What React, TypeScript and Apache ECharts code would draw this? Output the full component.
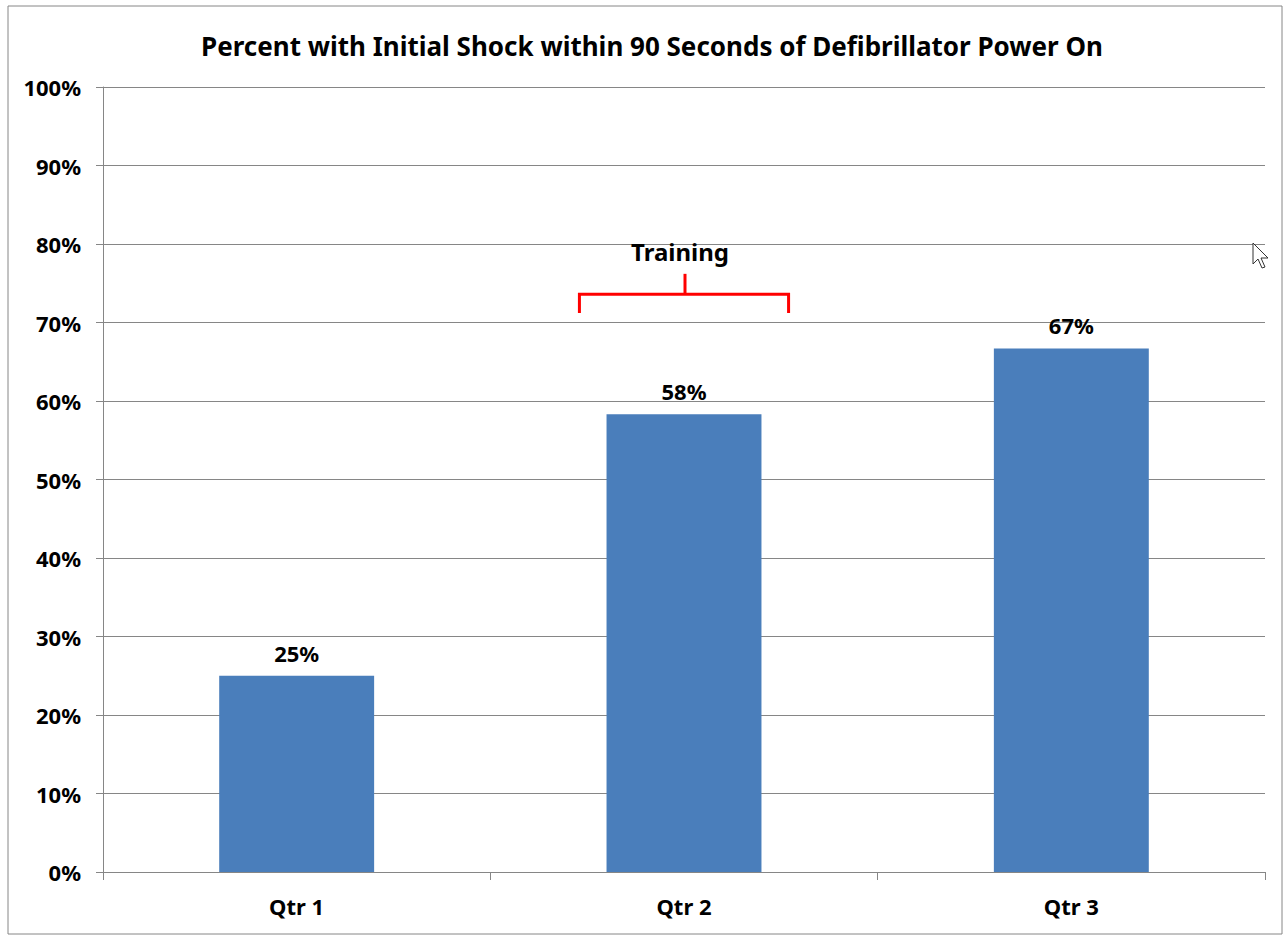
import React, { useEffect, useRef } from "react";
import * as echarts from "echarts";

const categories = ["Qtr 1", "Qtr 2", "Qtr 3"];
const values = [0.25, 0.583, 0.667];
const yTicks = [0, 0.1, 0.2, 0.3, 0.4, 0.5, 0.6, 0.7, 0.8, 0.9, 1.0];
const titleText = "Percent with Initial Shock within 90 Seconds of Defibrillator Power On";
const annotationText = "Training";
const annotationCategory = "Qtr 2";
const bracketLevels = { bottom: 0.712, bar: 0.736, stem: 0.762, text: 0.79 };

const FONT = "'Noto Sans', 'DejaVu Sans', sans-serif";

export default function App() {
  const ref = useRef<HTMLDivElement>(null);
  useEffect(() => {
    document.body.style.margin = "0";
    const chart = echarts.init(ref.current!, null, { renderer: "svg" });
    const option: any = {
      animation: false,
      backgroundColor: "#ffffff",
      title: {
        text: titleText,
        left: 647,
        textAlign: "center",
        top: 28,
        textStyle: { fontFamily: FONT, fontWeight: "bold", fontSize: 26, color: "#000" },
      },
      grid: { left: 103, right: 22, top: 87, bottom: 65 },
      xAxis: {
        type: "category",
        data: categories,
        axisLine: { lineStyle: { color: "#868686", width: 1 } },
        axisTick: { show: true, length: 8, alignWithLabel: false, lineStyle: { color: "#868686" } },
        axisLabel: { fontFamily: FONT, fontWeight: "bold", fontSize: 22, color: "#000", margin: 23 },
        splitLine: { show: false },
      },
      yAxis: {
        type: "value",
        min: 0,
        max: 1,
        interval: 0.1,
        axisLine: { show: true, lineStyle: { color: "#868686", width: 1 } },
        axisTick: { show: true, length: 7, lineStyle: { color: "#868686" } },
        axisLabel: {
          fontFamily: FONT,
          fontWeight: "bold",
          fontSize: 22,
          color: "#000",
          margin: 22,
          formatter: (v: number) => Math.round(v * 100) + "%",
        },
        splitLine: { show: true, lineStyle: { color: "#868686", width: 1 } },
      },
      series: [
        {
          type: "bar",
          data: values,
          barWidth: "40%",
          itemStyle: { color: "#4a7ebb" },
          label: {
            show: true,
            position: "top",
            distance: 12,
            fontFamily: FONT,
            fontWeight: "bold",
            fontSize: 22,
            color: "#000",
            formatter: (p: any) => Math.round(p.value * 100) + "%",
          },
        },
      ],
    };
    chart.setOption(option);

    const cx = chart.convertToPixel({ xAxisIndex: 0 }, annotationCategory) as number;
    const yPx = (v: number) => chart.convertToPixel({ yAxisIndex: 0 }, v) as number;
    const catW =
      (chart.convertToPixel({ xAxisIndex: 0 }, categories[1]) as number) -
      (chart.convertToPixel({ xAxisIndex: 0 }, categories[0]) as number);
    const halfW = catW * 0.27;
    const yb = yPx(bracketLevels.bottom);
    const ybar = yPx(bracketLevels.bar);
    const ystem = yPx(bracketLevels.stem);
    const ytext = yPx(bracketLevels.text);
    const red = "#ff0000";

    chart.setOption({
      graphic: [
        {
          type: "rect",
          shape: { x: 8, y: 6, width: 1274, height: 928 },
          style: { fill: "none", stroke: "#868686", lineWidth: 1 },
          silent: true,
        },
        {
          type: "polyline",
          shape: {
            points: [
              [cx - halfW, yb],
              [cx - halfW, ybar],
              [cx + halfW, ybar],
              [cx + halfW, yb],
            ],
          },
          style: { stroke: red, lineWidth: 3, fill: "none" },
        },
        {
          type: "line",
          shape: { x1: cx + 1, y1: ybar, x2: cx + 1, y2: ystem },
          style: { stroke: red, lineWidth: 3 },
        },
        {
          type: "text",
          x: cx - 4,
          y: ytext,
          style: {
            text: annotationText,
            fontFamily: FONT,
            fontWeight: "bold",
            fontSize: 24,
            fill: "#000",
            align: "center",
            verticalAlign: "middle",
          },
        },
        {
          type: "polygon",
          shape: {
            points: [
              [1253, 243],
              [1253, 264],
              [1258, 259],
              [1262, 268],
              [1265, 267],
              [1261, 258],
              [1268, 258],
            ],
          },
          style: { fill: "#ffffff", stroke: "#333333", lineWidth: 1 },
        },
      ],
    });

    return () => chart.dispose();
  }, []);
  return <div ref={ref} style={{ width: 1287, height: 937 }} />;
}
